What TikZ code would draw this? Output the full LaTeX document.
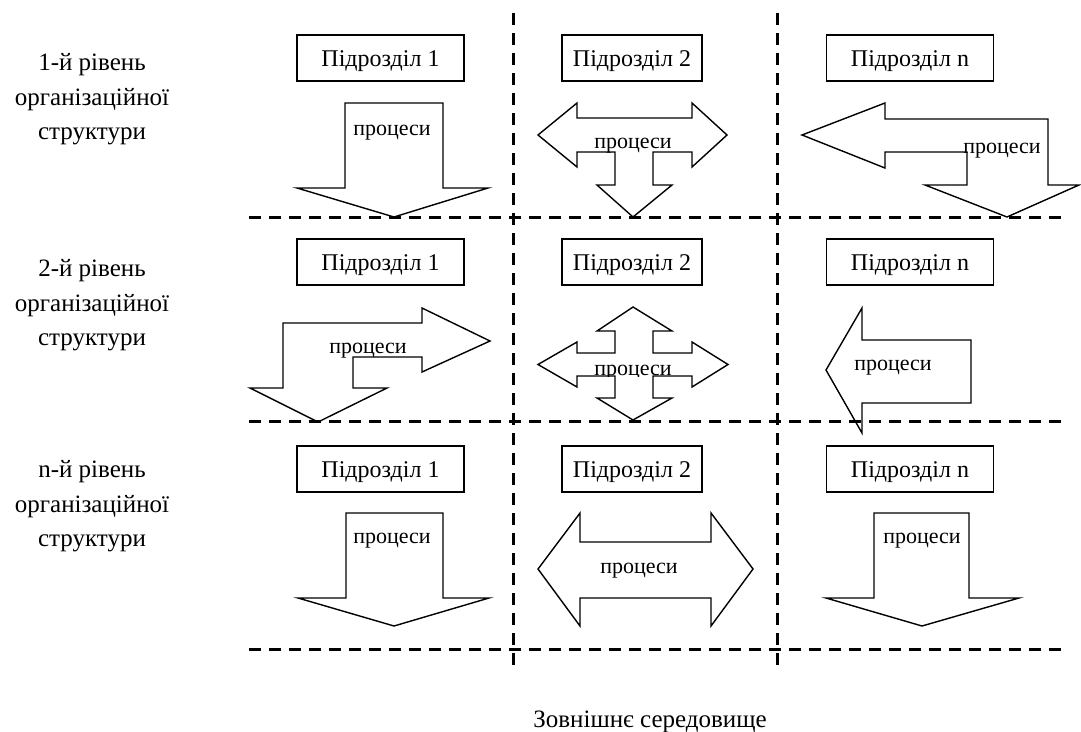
\documentclass[tikz,border=0pt]{standalone}
\usepackage{fontspec}
\setmainfont{Liberation Serif}
\begin{document}
\begin{tikzpicture}[x=1pt,y=-1pt,
  shp/.style={draw=black,fill=white,line width=1.4pt,line join=miter},
  dline/.style={draw=black,line width=3pt,dash pattern=on 12pt off 8pt},
  unitbox/.style={draw=black,line width=1.3pt,minimum width=167pt,minimum height=46pt,inner sep=0pt,font=\fontsize{24}{28}\selectfont,text height=16pt,text depth=0pt},
  unitboxb/.style={unitbox,minimum width=140pt},
  proc/.style={inner sep=0pt,anchor=base,font=\fontsize{22}{26}\selectfont},
  lvl/.style={inner sep=0pt,anchor=base,font=\fontsize{25}{30}\selectfont}]
\useasboundingbox (0,0) rectangle (1081,731);

% ---- arrows row 1
\draw[shp] (345,103) -- (443,103) -- (443,188) -- (488,188) -- (394,217) -- (297,188) -- (345,188) -- cycle;
\draw[shp] (538,135) -- (577,103) -- (577,118) -- (692,118) -- (692,103) -- (727,135) -- (692,167) -- (692,152) -- (653,152) -- (653,185) -- (672,185) -- (633,217) -- (597,185) -- (615,185) -- (615,152) -- (577,152) -- (577,167) -- cycle;
\draw[shp] (802,135) -- (885,103) -- (885,119) -- (1048,119) -- (1048,185) -- (1079,185) -- (1007,217) -- (925,185) -- (967,185) -- (967,152) -- (885,152) -- (885,168) -- cycle;
% ---- arrows row 2
\draw[shp] (283,323) -- (422,323) -- (422,308) -- (490,341) -- (422,372) -- (422,357) -- (353,357) -- (353,388) -- (387,388) -- (318,422) -- (250,388) -- (283,388) -- cycle;
\draw[shp] (633,307) -- (672,331) -- (653,331) -- (653,353) -- (692,353) -- (692,342) -- (728,364.5) -- (692,387) -- (692,376) -- (653,376) -- (653,398) -- (672,398) -- (633,420) -- (597,398) -- (615,398) -- (615,376) -- (577,376) -- (577,387) -- (538,364.5) -- (577,342) -- (577,353) -- (615,353) -- (615,331) -- (597,331) -- cycle;
\draw[shp] (826,370) -- (862,308) -- (862,340) -- (971,340) -- (971,403) -- (862,403) -- (862,433) -- cycle;
% ---- arrows row 3
\draw[shp] (346,513) -- (443,513) -- (443,598) -- (489,598) -- (394,626) -- (298,598) -- (346,598) -- cycle;
\draw[shp] (538,569) -- (580,513) -- (580,542) -- (711,542) -- (711,513) -- (753,569) -- (711,626) -- (711,598) -- (580,598) -- (580,626) -- cycle;
\draw[shp] (874,513) -- (969,513) -- (969,598) -- (1019,598) -- (922,626) -- (826,598) -- (874,598) -- cycle;

% ---- process labels
\node[proc] (p11) at (392,135) {процеси};
\node[proc] (p12) at (633,148) {процеси};
\node[proc] (p13) at (1002,153) {процеси};
\node[proc] (p21) at (368,353) {процеси};
\begin{scope}
\clip (560,345) rectangle (710,376);
\node[proc] (p22) at (633,375) {процеси};
\end{scope}
\node[proc] (p23) at (893,370) {процеси};
\node[proc] (p31) at (392,543) {процеси};
\node[proc] (p32) at (639,573) {процеси};
\node[proc] (p33) at (922,543) {процеси};

% ---- dashed grid
\coordinate (h1a) at (249,217); \coordinate (h1b) at (1062,217);
\coordinate (h2a) at (249,421); \coordinate (h2b) at (1062,421);
\coordinate (h3a) at (249,649); \coordinate (h3b) at (1062,649);
\coordinate (v1a) at (513,13); \coordinate (v1b) at (513,672);
\coordinate (v2a) at (777,13); \coordinate (v2b) at (777,672);
\draw[dline] (h1a) -- (h1b);
\draw[dline] (h2a) -- (h2b);
\draw[dline] (h3a) -- (h3b);
\draw[dline] (v1a) -- (v1b);
\draw[dline] (v2a) -- (v2b);

% ---- unit boxes
\node[unitbox]  (b11) at (380.5,58) {Підрозділ 1};
\node[unitboxb] (b12) at (632,58) {Підрозділ 2};
\node[unitbox]  (b13) at (910,58) {Підрозділ n};
\node[unitbox]  (b21) at (380.5,262) {Підрозділ 1};
\node[unitboxb] (b22) at (632,262) {Підрозділ 2};
\node[unitbox]  (b23) at (910,262) {Підрозділ n};
\node[unitbox]  (b31) at (380.5,469) {Підрозділ 1};
\node[unitboxb] (b32) at (632,469) {Підрозділ 2};
\node[unitbox]  (b33) at (910,469) {Підрозділ n};

% ---- level labels
\node[lvl] (l1a) at (92,70) {1-й рівень};
\node[lvl] (l1b) at (92,105) {організаційної};
\node[lvl] (l1c) at (92,139) {структури};
\node[lvl] (l2a) at (92,276) {2-й рівень};
\node[lvl] (l2b) at (92,311) {організаційної};
\node[lvl] (l2c) at (92,345) {структури};
\node[lvl] (l3a) at (92,477) {n-й рівень};
\node[lvl] (l3b) at (92,512) {організаційної};
\node[lvl] (l3c) at (92,546) {структури};

% ---- environment
\node[lvl] (env) at (650,727) {Зовнішнє середовище};
\end{tikzpicture}
\end{document}
